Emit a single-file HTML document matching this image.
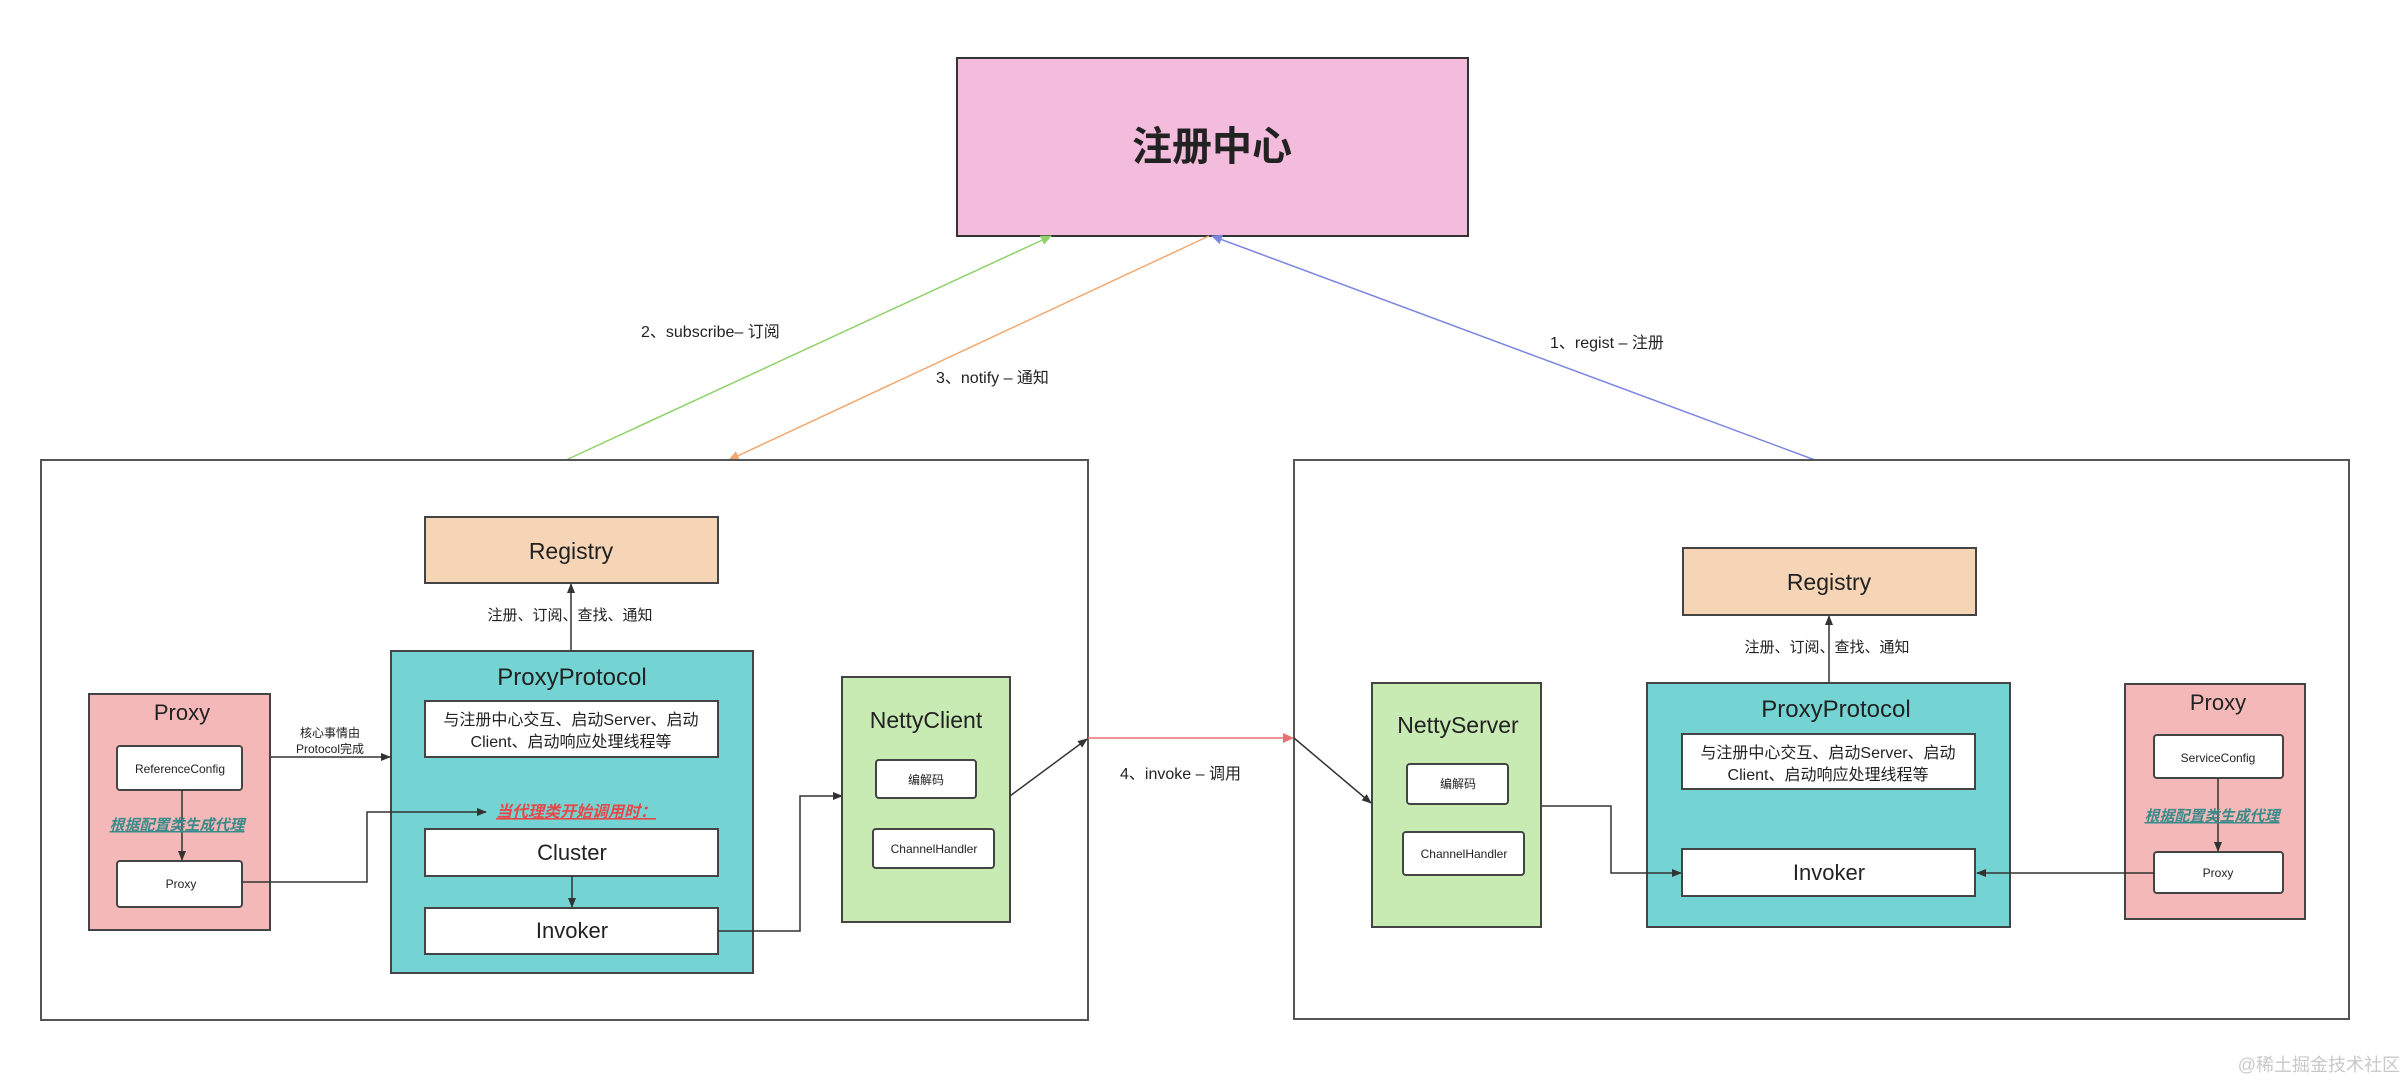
<!DOCTYPE html>
<html><head><meta charset="utf-8"><style>
html,body{margin:0;padding:0;background:#fff;}
svg{display:block;}
text{font-family:"Liberation Sans","Noto Sans CJK SC",sans-serif;fill:#222;}
</style></head><body>
<svg width="2406" height="1084" viewBox="0 0 2406 1084" xmlns="http://www.w3.org/2000/svg">
<defs>
<marker id="ab" markerWidth="10" markerHeight="10" refX="9" refY="5" orient="auto" markerUnits="userSpaceOnUse"><path d="M0,1 L10,5 L0,9 z" fill="#333"/></marker>
<marker id="ag" markerWidth="12" markerHeight="12" refX="10" refY="6" orient="auto" markerUnits="userSpaceOnUse"><path d="M0,1 L11,6 L0,11 z" fill="#8fd16a"/></marker>
<marker id="ao" markerWidth="12" markerHeight="12" refX="10" refY="6" orient="auto" markerUnits="userSpaceOnUse"><path d="M0,1 L11,6 L0,11 z" fill="#f0a870"/></marker>
<marker id="ap" markerWidth="12" markerHeight="12" refX="10" refY="6" orient="auto" markerUnits="userSpaceOnUse"><path d="M0,1 L11,6 L0,11 z" fill="#7b86e0"/></marker>
<marker id="ar" markerWidth="12" markerHeight="12" refX="10" refY="6" orient="auto" markerUnits="userSpaceOnUse"><path d="M0,1 L11,6 L0,11 z" fill="#e87070"/></marker>
</defs>

<!-- registry center -->
<rect x="957" y="58" width="511" height="178" fill="#f3bcdc" stroke="#333" stroke-width="2"/>
<text x="1212" y="160" font-size="40" font-weight="bold" text-anchor="middle">注册中心</text>

<!-- top arrows -->
<line x1="566" y1="460" x2="1051" y2="236" stroke="#8fd16a" stroke-width="1.5" marker-end="url(#ag)"/>
<line x1="1209" y1="236" x2="729" y2="460" stroke="#f0a870" stroke-width="1.5" marker-end="url(#ao)"/>
<line x1="1815" y1="460" x2="1212" y2="236" stroke="#7b86e0" stroke-width="1.5" marker-end="url(#ap)"/>
<text x="641" y="337" font-size="16">2、subscribe– 订阅</text>
<text x="936" y="383" font-size="16">3、notify – 通知</text>
<text x="1550" y="348" font-size="16">1、regist – 注册</text>

<!-- big boxes -->
<rect x="41" y="460" width="1047" height="560" fill="none" stroke="#555" stroke-width="2"/>
<rect x="1294" y="460" width="1055" height="559" fill="none" stroke="#555" stroke-width="2"/>

<!-- LEFT -->
<rect x="425" y="517" width="293" height="66" fill="#f6d5b7" stroke="#444" stroke-width="2"/>
<text x="571" y="559" font-size="23" text-anchor="middle">Registry</text>
<line x1="571" y1="651" x2="571" y2="584" stroke="#333" stroke-width="1.5" marker-end="url(#ab)"/>
<text x="570" y="620" font-size="15" text-anchor="middle">注册、订阅、查找、通知</text>

<rect x="391" y="651" width="362" height="322" fill="#74d4d4" stroke="#444" stroke-width="2"/>
<text x="572" y="685" font-size="24" text-anchor="middle">ProxyProtocol</text>
<rect x="425" y="701" width="293" height="56" fill="#fff" stroke="#444" stroke-width="2"/>
<text x="571" y="725" font-size="16" text-anchor="middle">与注册中心交互、启动Server、启动</text>
<text x="571" y="747" font-size="16" text-anchor="middle">Client、启动响应处理线程等</text>
<text x="496" y="817" font-size="16" font-style="italic" font-weight="bold" fill="#e84848" style="fill:#e84848" text-decoration="underline">当代理类开始调用时：</text>
<rect x="425" y="829" width="293" height="47" fill="#fff" stroke="#444" stroke-width="2"/>
<text x="572" y="860" font-size="22" text-anchor="middle">Cluster</text>
<line x1="572" y1="876" x2="572" y2="907" stroke="#333" stroke-width="1.5" marker-end="url(#ab)"/>
<rect x="425" y="908" width="293" height="46" fill="#fff" stroke="#444" stroke-width="2"/>
<text x="572" y="938" font-size="22" text-anchor="middle">Invoker</text>

<rect x="89" y="694" width="181" height="236" fill="#f4b8b8" stroke="#444" stroke-width="2"/>
<text x="182" y="720" font-size="22" text-anchor="middle">Proxy</text>
<rect x="117" y="746" width="125" height="44" rx="3" fill="#fff" stroke="#444" stroke-width="2"/>
<text x="180" y="773" font-size="12" text-anchor="middle">ReferenceConfig</text>
<line x1="182" y1="790" x2="182" y2="860" stroke="#333" stroke-width="1.5" marker-end="url(#ab)"/>
<text x="177" y="830" font-size="15" font-style="italic" font-weight="bold" style="fill:#3a8a8a" text-anchor="middle" text-decoration="underline">根据配置类生成代理</text>
<rect x="117" y="861" width="125" height="46" rx="3" fill="#fff" stroke="#444" stroke-width="2"/>
<text x="181" y="888" font-size="12" text-anchor="middle">Proxy</text>

<line x1="271" y1="757" x2="390" y2="757" stroke="#333" stroke-width="1.5" marker-end="url(#ab)"/>
<text x="330" y="737" font-size="12" text-anchor="middle">核心事情由</text>
<text x="330" y="753" font-size="12" text-anchor="middle">Protocol完成</text>
<polyline points="242,882 367,882 367,812 486,812" fill="none" stroke="#333" stroke-width="1.5" marker-end="url(#ab)"/>
<polyline points="718,931 800,931 800,796 842,796" fill="none" stroke="#333" stroke-width="1.5" marker-end="url(#ab)"/>

<rect x="842" y="677" width="168" height="245" fill="#c8ebb4" stroke="#444" stroke-width="2"/>
<text x="926" y="728" font-size="23" text-anchor="middle">NettyClient</text>
<rect x="876" y="760" width="100" height="38" rx="3" fill="#fff" stroke="#444" stroke-width="2"/>
<text x="926" y="784" font-size="12" text-anchor="middle">编解码</text>
<rect x="873" y="829" width="121" height="39" rx="3" fill="#fff" stroke="#444" stroke-width="2"/>
<text x="934" y="853" font-size="12" text-anchor="middle">ChannelHandler</text>

<line x1="1010" y1="796" x2="1087" y2="739" stroke="#333" stroke-width="1.5" marker-end="url(#ab)"/>
<line x1="1088" y1="738" x2="1293" y2="738" stroke="#e87070" stroke-width="1.5" marker-end="url(#ar)"/>
<line x1="1294" y1="738" x2="1371" y2="803" stroke="#333" stroke-width="1.5" marker-end="url(#ab)"/>
<text x="1120" y="779" font-size="16">4、invoke – 调用</text>

<!-- RIGHT -->
<rect x="1683" y="548" width="293" height="67" fill="#f6d5b7" stroke="#444" stroke-width="2"/>
<text x="1829" y="590" font-size="23" text-anchor="middle">Registry</text>
<line x1="1829" y1="683" x2="1829" y2="616" stroke="#333" stroke-width="1.5" marker-end="url(#ab)"/>
<text x="1827" y="652" font-size="15" text-anchor="middle">注册、订阅、查找、通知</text>

<rect x="1647" y="683" width="363" height="244" fill="#74d4d4" stroke="#444" stroke-width="2"/>
<text x="1836" y="717" font-size="24" text-anchor="middle">ProxyProtocol</text>
<rect x="1682" y="734" width="293" height="55" fill="#fff" stroke="#444" stroke-width="2"/>
<text x="1828" y="758" font-size="16" text-anchor="middle">与注册中心交互、启动Server、启动</text>
<text x="1828" y="780" font-size="16" text-anchor="middle">Client、启动响应处理线程等</text>
<rect x="1682" y="849" width="293" height="47" fill="#fff" stroke="#444" stroke-width="2"/>
<text x="1829" y="880" font-size="22" text-anchor="middle">Invoker</text>

<rect x="1372" y="683" width="169" height="244" fill="#c8ebb4" stroke="#444" stroke-width="2"/>
<text x="1458" y="733" font-size="23" text-anchor="middle">NettyServer</text>
<rect x="1407" y="764" width="101" height="40" rx="3" fill="#fff" stroke="#444" stroke-width="2"/>
<text x="1458" y="788" font-size="12" text-anchor="middle">编解码</text>
<rect x="1403" y="832" width="121" height="43" rx="3" fill="#fff" stroke="#444" stroke-width="2"/>
<text x="1464" y="858" font-size="12" text-anchor="middle">ChannelHandler</text>
<polyline points="1542,806 1611,806 1611,873 1681,873" fill="none" stroke="#333" stroke-width="1.5" marker-end="url(#ab)"/>

<rect x="2125" y="684" width="180" height="235" fill="#f4b8b8" stroke="#444" stroke-width="2"/>
<text x="2218" y="710" font-size="22" text-anchor="middle">Proxy</text>
<rect x="2154" y="735" width="129" height="43" rx="3" fill="#fff" stroke="#444" stroke-width="2"/>
<text x="2218" y="762" font-size="12" text-anchor="middle">ServiceConfig</text>
<line x1="2218" y1="778" x2="2218" y2="851" stroke="#333" stroke-width="1.5" marker-end="url(#ab)"/>
<text x="2212" y="821" font-size="15" font-style="italic" font-weight="bold" style="fill:#3a8a8a" text-anchor="middle" text-decoration="underline">根据配置类生成代理</text>
<rect x="2154" y="852" width="129" height="41" rx="3" fill="#fff" stroke="#444" stroke-width="2"/>
<text x="2218" y="877" font-size="12" text-anchor="middle">Proxy</text>
<line x1="2154" y1="873" x2="1977" y2="873" stroke="#333" stroke-width="1.5" marker-end="url(#ab)"/>

<text x="2400" y="1071" font-size="18" text-anchor="end" style="fill:#c8c8c8">@稀土掘金技术社区</text>
</svg>
</body></html>
